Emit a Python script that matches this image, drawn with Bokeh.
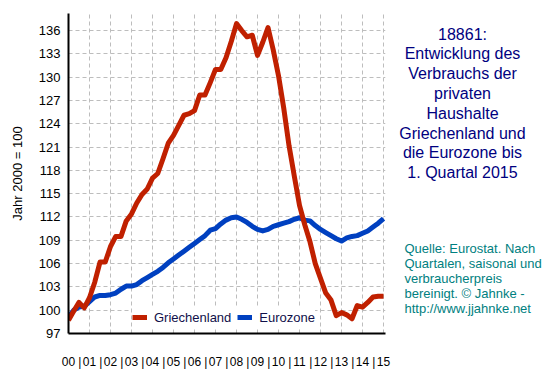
from bokeh.plotting import figure
from bokeh.layouts import row
from bokeh.models import Range1d, FixedTicker, Legend, LegendItem, ColumnDataSource
from bokeh.core.properties import value
from bokeh.embed import file_html
from bokeh.resources import INLINE

# ---- data ----
years = list(range(2000, 2016))
quarters = [f"{y}Q{q}" for y in years for q in (1, 2, 3, 4)][:61]  # 2000Q1 .. 2015Q1

griechenland = [98.7, 99.9, 101.0, 100.3, 101.6, 103.6, 106.2, 106.2, 108.2, 109.5,
                109.5, 111.5, 112.4, 113.8, 114.9, 115.6, 117.0, 117.6, 119.5, 121.5,
                122.5, 123.8, 125.1, 125.3, 125.7, 127.7, 127.7, 129.3, 131.0, 131.0,
                132.5, 134.6, 136.9, 136.0, 135.2, 135.4, 132.8, 134.5, 136.4, 133.5,
                130.2, 126.0, 121.2, 117.3, 113.5, 111.0, 108.8, 106.0, 104.1, 102.2,
                101.3, 99.3, 99.7, 99.4, 98.9, 100.6, 100.4, 101.0, 101.7, 101.8, 101.8]

eurozone = [99.1, 100.0, 100.4, 100.5, 101.1, 101.7, 101.9, 101.9, 102.0, 102.2,
            102.7, 103.1, 103.1, 103.3, 103.8, 104.2, 104.6, 105.0, 105.5, 106.1,
            106.6, 107.1, 107.6, 108.1, 108.6, 109.1, 109.6, 110.3, 110.5, 111.1,
            111.6, 111.9, 112.0, 111.7, 111.3, 110.8, 110.4, 110.2, 110.4, 110.8,
            111.0, 111.2, 111.4, 111.7, 111.9, 111.6, 111.5, 110.9, 110.4, 110.0,
            109.6, 109.2, 108.9, 109.3, 109.5, 109.6, 109.9, 110.2, 110.7, 111.2, 111.8]

year_labels = ["00", "01", "02", "03", "04", "05", "06", "07",
               "08", "09", "10", "11", "12", "13", "14", "15"]
y_ticks = [97, 100, 103, 106, 109, 112, 115, 118, 121, 124, 127, 130, 133, 136]

title_lines = ["18861:", "Entwicklung des", "Verbrauchs der", "privaten", "Haushalte",
               "Griechenland und", "die Eurozone bis", "1. Quartal 2015"]
source_lines = ["Quelle: Eurostat. Nach", "Quartalen, saisonal und", "verbraucherpreis",
                "bereinigt. \u00a9 Jahnke -", "http://www.jjahnke.net"]

x = [int(q[:4]) + (int(q[5]) - 1) / 4 for q in quarters]

FONT = "Liberation Sans"
RED = "#c02000"
BLUE = "#0040c0"

W_MAIN = 395
H = 376
TOP = 13
BOTTOM = 333

p = figure(width=W_MAIN, height=H, output_backend="svg", toolbar_location=None,
           x_range=Range1d(2000, 2015.095), y_range=Range1d(97, 138.2),
           min_border_left=68, min_border_right=W_MAIN - 68 - 317, min_border_top=TOP,
           min_border_bottom=H - BOTTOM)
p.outline_line_color = None
p.background_fill_color = "white"
p.border_fill_color = "white"

r_blue = p.line(x, eurozone, line_color=BLUE, line_width=5, line_join="round")
r_red = p.line(x, griechenland, line_color=RED, line_width=5, line_join="round")

# axes
sep_pos = [round(y + 0.54, 2) for y in years[:-1]]
xt = [float(y) for y in years] + sep_pos
overrides = {float(y): lab for y, lab in zip(years, year_labels)}
overrides.update({s: "|" for s in sep_pos})
xa = p.xaxis[0]
xa.ticker = FixedTicker(ticks=xt)
xa.major_label_overrides = overrides
xa.major_tick_line_color = None
xa.major_tick_out = 0
xa.major_tick_in = 0
xa.minor_tick_line_color = None
xa.major_label_standoff = 21
xa.major_label_text_font = FONT
xa.major_label_text_font_size = "12px"
xa.major_label_text_color = "black"
xa.axis_line_color = "black"
xa.axis_line_width = 2

ya = p.yaxis[0]
ya.ticker = FixedTicker(ticks=y_ticks)
ya.major_tick_line_color = None
ya.major_tick_out = 0
ya.major_tick_in = 0
ya.minor_tick_line_color = None
ya.major_label_standoff = 8
ya.major_label_text_font = FONT
ya.major_label_text_font_size = "13px"
ya.major_label_text_color = "black"
ya.axis_line_color = "black"
ya.axis_line_width = 2
ya.axis_label = "Jahr 2000 = 100"
ya.axis_label_text_font = FONT
ya.axis_label_text_font_size = "13px"
ya.axis_label_text_font_style = "normal"
ya.axis_label_text_color = "black"
ya.axis_label_standoff = 11

p.xgrid.ticker = FixedTicker(ticks=[float(y) for y in years[1:]])
p.ygrid.ticker = FixedTicker(ticks=y_ticks[1:])
for g in (p.xgrid[0], p.ygrid[0]):
    g.grid_line_color = "#bdbdbd"
    g.grid_line_width = 1
    g.grid_line_dash = "4 3"

legend = Legend(items=[LegendItem(label="Griechenland", renderers=[r_red]),
                       LegendItem(label="Eurozone", renderers=[r_blue])],
                orientation="horizontal", location=(64, 6), padding=0, margin=0,
                spacing=6, glyph_width=15, glyph_height=20, label_standoff=7,
                border_line_color=None, background_fill_color="white",
                background_fill_alpha=1, label_text_font=FONT,
                label_text_font_size="13px", label_text_color="#10104a")
p.add_layout(legend)

# ---- right-hand text panel (frame aligned with main frame: page pixels, y from top) ----
W_SIDE = 553 - W_MAIN
q = figure(width=W_SIDE, height=H, output_backend="svg", toolbar_location=None,
           x_range=Range1d(0, W_SIDE), y_range=Range1d(BOTTOM, TOP),
           x_axis_type=None, y_axis_type=None,
           min_border_left=0, min_border_right=0, min_border_top=TOP,
           min_border_bottom=H - BOTTOM)
q.outline_line_color = None
q.xgrid.visible = False
q.ygrid.visible = False
q.background_fill_color = "white"
q.border_fill_color = "white"

title_src = ColumnDataSource(dict(x=[462 - W_MAIN] * len(title_lines),
                                  y=[33.5 + 19.8 * k for k in range(len(title_lines))],
                                  t=title_lines))
q.text("x", "y", text="t", source=title_src, text_align="center", text_baseline="middle",
       text_font=value(FONT), text_font_size="16px", text_color="#000080")
src_src = ColumnDataSource(dict(x=[404 - W_MAIN] * len(source_lines),
                                y=[248.3 + 15 * k for k in range(len(source_lines))],
                                t=source_lines))
q.text("x", "y", text="t", source=src_src, text_align="left", text_baseline="middle",
       text_font=value(FONT), text_font_size="13px", text_color="#008080")

layout = row(p, q, spacing=0)
open("out.html", "w").write(file_html(layout, INLINE))
